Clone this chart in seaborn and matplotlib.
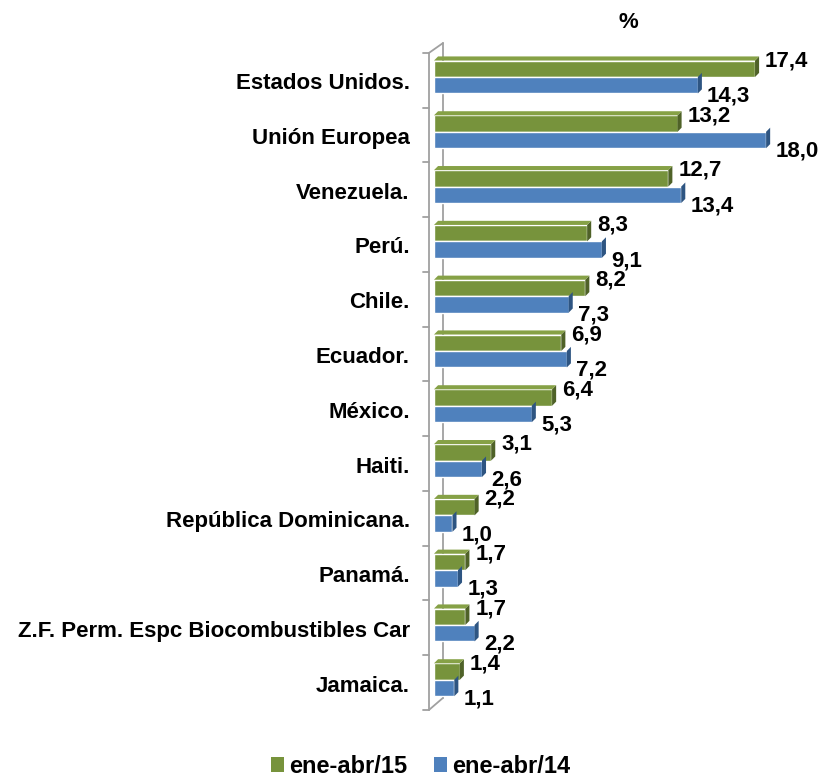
import matplotlib
matplotlib.use("Agg")
import matplotlib.pyplot as plt
import matplotlib.transforms as mtransforms
import seaborn as sns
import pandas as pd
from matplotlib.patches import Polygon, Patch

categories = ["Estados Unidos.", "Unión Europea", "Venezuela.", "Perú.", "Chile.",
              "Ecuador.", "México.", "Haiti.", "República Dominicana.", "Panamá.",
              "Z.F. Perm. Espc Biocombustibles Car", "Jamaica."]
s15 = [17.4, 13.2, 12.7, 8.3, 8.2, 6.9, 6.4, 3.1, 2.2, 1.7, 1.7, 1.4]
s14 = [14.3, 18.0, 13.4, 9.1, 7.3, 7.2, 5.3, 2.6, 1.0, 1.3, 2.2, 1.1]
series = ["ene-abr/15", "ene-abr/14"]
colors = {"ene-abr/15": "#77933C", "ene-abr/14": "#4F81BD"}
dark = {"ene-abr/15": "#4F6228", "ene-abr/14": "#2E5582"}
light = {"ene-abr/15": "#86A146", "ene-abr/14": "#6A95C9"}

df = pd.DataFrame({
    "pais": categories * 2,
    "valor": s15 + s14,
    "serie": [series[0]] * len(categories) + [series[1]] * len(categories),
})

sns.set_style("white")
plt.rcParams["font.family"] = ["Liberation Sans", "DejaVu Sans"]
plt.rcParams["text.color"] = "black"
plt.rcParams["ytick.color"] = "black"

fig = plt.figure(figsize=(8.28, 7.82), dpi=100)
ax = fig.add_axes([434 / 828, 0.0957, 369 / 828, 0.8409])

sns.barplot(data=df, y="pais", x="valor", hue="serie", order=categories,
            hue_order=series, palette=colors, orient="h", width=0.6,
            legend=False, ax=ax, saturation=1, zorder=2)

ax.set_xlim(0, 20)
ax.set_ylim(len(categories) - 0.5, -0.5)
ax.set_xlabel("")
ax.set_ylabel("")
ax.set_xticks([])
for s in ["top", "right", "bottom", "left"]:
    ax.spines[s].set_visible(False)
ax.tick_params(axis="y", length=0, pad=17.5)
shift = mtransforms.ScaledTranslation(0, -0.04, fig.dpi_scale_trans)
for lab in ax.get_yticklabels():
    lab.set_fontweight("bold")
    lab.set_fontsize(16)
    lab.set_color("black")
    lab.set_transform(lab.get_transform() + shift)

# 3D-like faces and labels
dx = 0.22
dy = 0.075
for cont, name in zip(ax.containers, series):
    for p, v in zip(cont.patches, cont.datavalues):
        x0, y0 = p.get_x(), p.get_y()
        w, h = p.get_width(), p.get_height()
        ax.add_patch(Polygon([(x0 + w, y0), (x0 + w + dx, y0 - dy),
                              (x0 + w + dx, y0 + h - dy), (x0 + w, y0 + h)],
                             closed=True, facecolor=dark[name], edgecolor="none", zorder=3))
        if name == series[0]:
            ax.add_patch(Polygon([(x0, y0), (x0 + dx, y0 - dy), (x0 + w + dx, y0 - dy),
                                  (x0 + w, y0)],
                                 closed=True, facecolor=light[name], edgecolor="none", zorder=3))
        yc = y0 + h / 2
        txt = f"{v:.1f}".replace(".", ",")
        if name == series[0]:
            ax.text(x0 + w + 0.54, yc - 0.146, txt, ha="left", va="center",
                    fontsize=16, fontweight="bold", color="black", zorder=5)
        else:
            ax.text(x0 + w + 0.5, yc + 0.2, txt, ha="left", va="center",
                    fontsize=16, fontweight="bold", color="black", zorder=5)

# grey axis wall
wall = "#A0A0A0"
fx, bx = -0.27, 0.49
ftop, fbot = -0.44, 11.55
btop, bbot = -0.62, 11.33
ax.plot([bx, bx], [btop, bbot], color=wall, lw=1.3, clip_on=False, zorder=1)
ax.plot([fx, fx], [ftop, fbot], color=wall, lw=1.3, clip_on=False, zorder=1)
ax.plot([fx, bx], [ftop, btop], color=wall, lw=1.3, clip_on=False, zorder=1)
ax.plot([fx, bx], [fbot, bbot], color=wall, lw=1.3, clip_on=False, zorder=1)
n = len(categories)
for i in range(n + 1):
    yt = ftop + (fbot - ftop) * i / n
    ax.plot([-0.6, fx], [yt, yt], color=wall, lw=1.3, clip_on=False, zorder=1)

fig.text(628 / 828, 1 - 22 / 782, "%", ha="center", va="center", fontsize=16,
         fontweight="bold", color="black")

handles = [Patch(facecolor=colors[s], edgecolor="none") for s in series]
fig.legend(handles, series, loc="center", bbox_to_anchor=(0.508, 0.02), ncol=2,
           frameon=False, prop={"weight": "bold", "size": 17}, handlelength=0.55,
           handleheight=0.55, handletextpad=0.25, columnspacing=1.1,
           labelcolor="black", borderpad=0.1)

fig.savefig("out.png", dpi=100)
